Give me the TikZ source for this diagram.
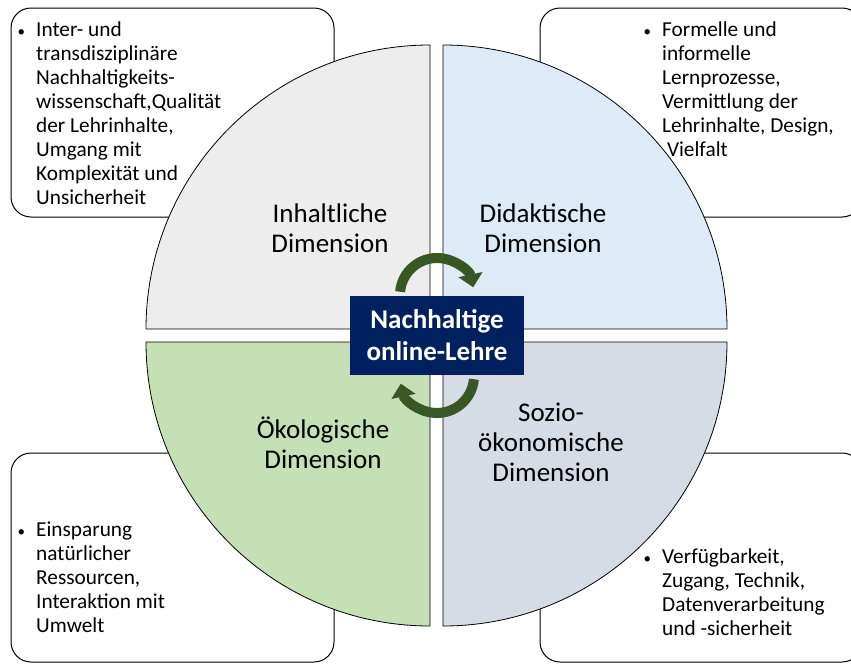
\documentclass[tikz,border=0pt]{standalone}
\usepackage{fontspec}
\setmainfont{Carlito}
\usetikzlibrary{arrows.meta}
\definecolor{secA}{HTML}{EDEDED}
\definecolor{secB}{HTML}{DEEBF7}
\definecolor{secC}{HTML}{C5E0B4}
\definecolor{secD}{HTML}{D6DCE5}
\definecolor{navy}{HTML}{002060}
\definecolor{arrgreen}{HTML}{385723}
\newcommand{\bul}{\llap{{\fontsize{15}{15}\selectfont •}\hspace{11pt}}}
\tikzset{
  infobox/.style={draw=black, line width=1pt, rounded corners=20pt, fill=white},
  sector/.style={draw=black, line width=0.8pt},
  boxtext/.style={anchor=north west, inner sep=0pt, align=left, font=\fontsize{21.3}{24}\selectfont},
  dimlabel/.style={align=center, inner sep=0pt, font=\fontsize{27}{30}\selectfont},
  cyclearrow/.style={draw=arrgreen, line width=10pt, -{Triangle[width=24pt,length=13pt]}},
}
\begin{document}
\begin{tikzpicture}[x=1pt,y=-1pt]
\useasboundingbox (0,0) rectangle (851,664);
% corner boxes
\draw[infobox] (11,8) rectangle (334,217);
\draw[infobox] (540,8) rectangle (862,217);
\draw[infobox] (11,453) rectangle (334,662);
\draw[infobox] (540,453) rectangle (862,662);
% sectors
\path[sector, fill=secA] (430,329) -- ++(-284pt,0pt) arc[start angle=180, end angle=90, radius=284pt] -- cycle;
\path[sector, fill=secB] (443,329) -- ++(0pt,284pt) arc[start angle=90, end angle=0, radius=284pt] -- cycle;
\path[sector, fill=secC] (430,342) -- ++(-284pt,0pt) arc[start angle=180, end angle=270, radius=284pt] -- cycle;
\path[sector, fill=secD] (443,342) -- ++(284pt,0pt) arc[start angle=0, end angle=-90, radius=284pt] -- cycle;
% box texts
\node[boxtext] (t1) at (36,22) {\bul Inter- und\\transdisziplinäre\\Nachhaltigkeits-\\wissenschaft,Qualität\\der Lehrinhalte,\\Umgang mit\\Komplexität und\\Unsicherheit};
\node[boxtext] (t2) at (662,22) {\bul Formelle und\\informelle\\Lernprozesse,\\Vermittlung der\\Lehrinhalte, Design,\\\ Vielfalt};
\node[boxtext] (t3) at (36,522) {\bul Einsparung\\natürlicher\\Ressourcen,\\Interaktion mit\\Umwelt};
\node[boxtext] (t4) at (662,549) {\bul Verfügbarkeit,\\Zugang, Technik,\\Datenverarbeitung\\und -sicherheit};
% dimension labels
\node[dimlabel] (d1) at (330,228) {Inhaltliche\\Dimension};
\node[dimlabel] (d2) at (543,228) {Didaktische\\Dimension};
\node[dimlabel] (d3) at (323,443) {Ökologische\\Dimension};
\node[dimlabel] (d4) at (551,442) {Sozio-\\ökonomische\\Dimension};
% cycle arrows
\coordinate (ctop) at (437,295);
\coordinate (cbot) at (437,376);
\draw[cyclearrow] ([shift={(175:37pt)}]ctop) arc[start angle=175, end angle=12, radius=37pt];
\draw[cyclearrow] ([shift={(-5:37pt)}]cbot) arc[start angle=-5, end angle=-168, radius=37pt];
% center
\node[fill=navy, text=white, minimum width=174pt, minimum height=79pt, inner sep=0pt, align=center, font=\fontsize{27}{32}\selectfont\bfseries] (center) at (437,335.5) {Nachhaltige\\online-Lehre};
\end{tikzpicture}
\end{document}
